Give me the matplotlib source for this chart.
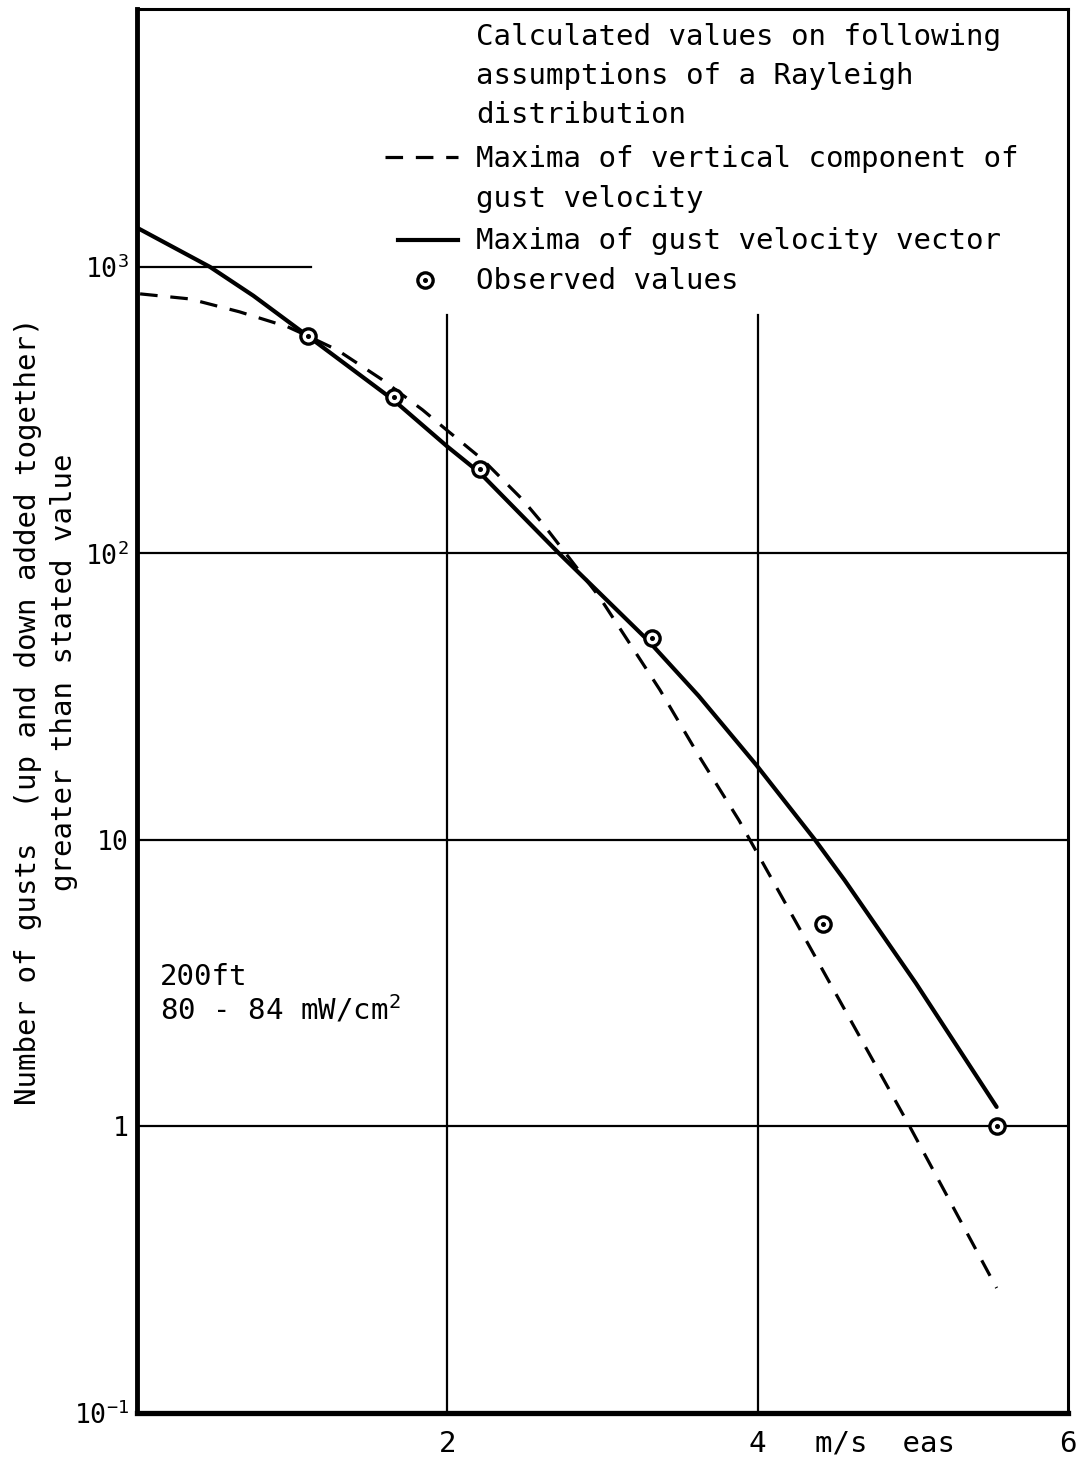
import matplotlib
matplotlib.use('Agg')
import matplotlib.pyplot as plt
from matplotlib.lines import Line2D

# --- data (x in m/s eas, y = number of gusts) ---
solid_x = [0.0, 0.47, 0.75, 1.10, 1.65, 2.00, 2.21, 2.72, 3.29, 3.62, 3.99,
           4.37, 4.56, 5.02, 5.54]
solid_y = [1370, 1000, 793, 574, 344, 236, 191, 100, 49.9, 31.8, 18.3,
           10, 7.24, 3.16, 1.17]

dash_x = [0.02, 0.34, 0.66, 0.97, 1.10, 1.29, 1.58, 1.84, 1.98, 2.23, 2.485, 2.61,
          2.98, 3.37, 3.625, 3.88, 3.95, 4.25, 4.98, 5.54]
dash_y = [805, 773, 697, 618, 574, 513, 404, 317, 274, 212, 154, 128,
          70.5, 33.4, 19.5, 11.7, 10, 5.13, 1.0, 0.273]

obs_x = [1.10, 1.655, 2.21, 3.32, 4.42, 5.54]
obs_y = [574, 351, 197, 50.7, 5.09, 1.0]

y_ticks = [0.1, 1, 10, 100, 1000]
y_ticklabels = ['10$^{-1}$', '1', '10', '10$^{2}$', '10$^{3}$']
x_ticks = [2, 4, 6]
x_ticklabels = ['2', '4', '6']

legend_header = ['Calculated values on following',
                 'assumptions of a Rayleigh',
                 'distribution']
legend_dash = ['Maxima of vertical component of', 'gust velocity']
legend_solid = 'Maxima of gust velocity vector'
legend_obs = 'Observed values'

FS = 21
plt.rcParams['font.family'] = ['DejaVu Sans Mono']
plt.rcParams['mathtext.fontset'] = 'custom'
plt.rcParams['mathtext.rm'] = 'DejaVu Sans Mono'
plt.rcParams['mathtext.it'] = 'DejaVu Sans Mono'

fig = plt.figure(figsize=(10.8, 14.57), dpi=100)
ax = fig.add_axes([137/1080, 44/1457, 931/1080, 1404/1457])
ax.set_yscale('log')
ax.set_xlim(0, 6)
ax.set_ylim(0.1, 10**3.90)

# grid lines drawn as in the original sheet
for yv in [1, 10, 100]:
    ax.axhline(yv, color='black', lw=1.6, zorder=1)
ax.plot([0, 1.12], [1000, 1000], color='black', lw=1.6, zorder=1)
for xv in [2, 4]:
    ax.plot([xv, xv], [0.1, 680], color='black', lw=1.6, zorder=1)

# curves
ax.plot(solid_x, solid_y, color='black', lw=3.0, solid_capstyle='round',
        solid_joinstyle='round', zorder=3)
ax.plot(dash_x, dash_y, color='black', lw=2.3, linestyle=(0, (5.5, 4)), zorder=3)
ax.plot(obs_x, obs_y, linestyle='none', marker='o', ms=11, mfc='white',
        mec='black', mew=2.4, zorder=4)
ax.plot(obs_x, obs_y, linestyle='none', marker='o', ms=2.6, color='black', zorder=5)

# spines
for side, w in [('left', 3.5), ('bottom', 3.8), ('top', 2.2), ('right', 2.2)]:
    ax.spines[side].set_linewidth(w)

ax.set_yticks(y_ticks)
ax.set_yticklabels(y_ticklabels)
ax.minorticks_off()
ax.set_xticks(x_ticks)
ax.set_xticklabels(x_ticklabels)
ax.tick_params(length=0, labelsize=FS)
ax.tick_params(axis='y', pad=6, labelsize=19)
ax.tick_params(axis='x', pad=12)
ax.text(4.82, -0.0115, 'm/s  eas', transform=ax.get_xaxis_transform(),
        ha='center', va='top', fontsize=FS)

# y label (two lines)
fig.text(28/1080, 1 - 711/1457, 'Number of gusts  (up and down added together)',
         rotation=90, ha='center', va='center', fontsize=FS)
fig.text(64/1080, 1 - 672/1457, 'greater than stated value',
         rotation=90, ha='center', va='center', fontsize=FS)

# key
def fy(px):
    return (1413 - px) / 1404

def fx(px):
    return (px - 137) / 931

tx = fx(476)
for line, yb in zip(legend_header, [45, 84, 123]):
    ax.text(tx, fy(yb), line, transform=ax.transAxes, fontsize=FS, va='baseline')
for line, yb in zip(legend_dash, [167, 207]):
    ax.text(tx, fy(yb), line, transform=ax.transAxes, fontsize=FS, va='baseline')
ax.text(tx, fy(249), legend_solid, transform=ax.transAxes, fontsize=FS, va='baseline')
ax.text(tx, fy(289), legend_obs, transform=ax.transAxes, fontsize=FS, va='baseline')

ax.add_line(Line2D([fx(385), fx(458)], [fy(157), fy(157)], transform=ax.transAxes,
                   color='black', lw=2.3, linestyle=(0, (5.5, 4))))
ax.add_line(Line2D([fx(398), fx(458)], [fy(240), fy(240)], transform=ax.transAxes,
                   color='black', lw=3.0))
ax.add_line(Line2D([fx(425)], [fy(280)], transform=ax.transAxes, marker='o', ms=11,
                   mfc='white', mec='black', mew=2.4, linestyle='none'))
ax.add_line(Line2D([fx(425)], [fy(280)], transform=ax.transAxes, marker='o', ms=2.6,
                   color='black', linestyle='none'))

# annotation
ax.text(fx(160), fy(985), '200ft', transform=ax.transAxes, fontsize=FS, va='baseline')
ax.text(fx(160), fy(1020), '80 - 84 mW/cm$^{2}$', transform=ax.transAxes,
        fontsize=FS, va='baseline')

fig.savefig('out.png', dpi=100)
